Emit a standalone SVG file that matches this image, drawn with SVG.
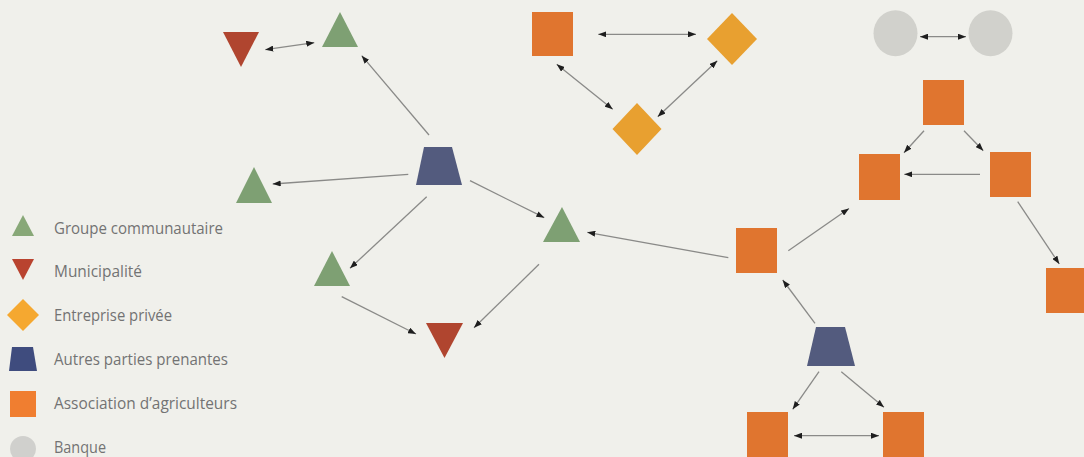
<svg xmlns="http://www.w3.org/2000/svg" width="1084" height="457" viewBox="0 0 1084 457">
<defs>
<marker id="ah" viewBox="0 0 8 6" markerWidth="8" markerHeight="6" refX="8" refY="3" orient="auto-start-reverse" markerUnits="userSpaceOnUse">
<path d="M0,0 L8,3 L0,6 z" fill="#1e1e1e"/>
</marker>
<style>
.bg{fill:#f0f0eb}
.c{stroke:#8a8a88;stroke-width:1.3;fill:none;marker-end:url(#ah)}
.d{marker-start:url(#ah)}
.g{fill:#7ea073}
.r{fill:#b0452f}
.o{fill:#e0752f}
.y{fill:#e8a030}
.n{fill:#535b7e}
.b{fill:#d1d1cc}
.lg{fill:#88a878}
.lr{fill:#b9432f}
.ly{fill:#f5a830}
.ln{fill:#3f4c7e}
.lo{fill:#f07e30}
.lb{fill:#d0d0cd}
.t{font-family:"Open Sans","Noto Sans","DejaVu Sans",sans-serif;font-size:17px;fill:#737373}
</style>
</defs>
<rect class="bg" x="0" y="0" width="1084" height="457"/>

<g id="connectors">
<line class="c d" x1="265.3" y1="49.7" x2="314.3" y2="42.7"/>
<line class="c" x1="429" y1="135" x2="361.7" y2="55.7"/>
<line class="c" x1="408.3" y1="174.3" x2="272.7" y2="184"/>
<line class="c" x1="470" y1="180.7" x2="544.3" y2="217.7"/>
<line class="c" x1="426.7" y1="196.7" x2="350" y2="268.3"/>
<line class="c" x1="341.7" y1="296.7" x2="416" y2="334"/>
<line class="c" x1="539" y1="264.3" x2="474" y2="327.7"/>
<line class="c" x1="728.3" y1="257.7" x2="587.3" y2="232.3"/>
<line class="c" x1="788.3" y1="250.7" x2="849" y2="208.5"/>
<line class="c" x1="815" y1="323.3" x2="782.7" y2="280"/>
<line class="c" x1="819" y1="371.7" x2="792.7" y2="409.3"/>
<line class="c" x1="841.3" y1="371.7" x2="884" y2="407.3"/>
<line class="c d" x1="794" y1="435.7" x2="879" y2="435.7"/>
<line class="c d" x1="598.3" y1="34.3" x2="696" y2="34.3"/>
<line class="c d" x1="556.7" y1="64.3" x2="612.7" y2="109.3"/>
<line class="c d" x1="657.7" y1="116.7" x2="717.3" y2="60.7"/>
<line class="c d" x1="920" y1="36.7" x2="966" y2="36.7"/>
<line class="c" x1="924" y1="130.7" x2="904" y2="152.7"/>
<line class="c" x1="964" y1="130.7" x2="983.3" y2="150.7"/>
<line class="c" x1="980" y1="174.3" x2="904.3" y2="174.3"/>
<line class="c" x1="1017.7" y1="201.7" x2="1059.3" y2="264"/>
</g>

<g id="muni-top"><polygon class="r" points="223,32 259,32 241,67"/></g>
<g id="groupe-top"><polygon class="g" points="322,47 358,47 340,12"/></g>
<g id="autres-1"><polygon class="n" points="424,147 452,147 462,185 416,185"/></g>
<g id="groupe-left"><polygon class="g" points="236,203 272,203 254,167"/></g>
<g id="groupe-right"><polygon class="g" points="543,242 580,242 562,207"/></g>
<g id="groupe-low"><polygon class="g" points="314,286 350,286 332,251"/></g>
<g id="muni-low"><polygon class="r" points="426,323 463,323 444.5,358"/></g>

<g id="assoc-top"><rect class="o" x="532" y="12" width="41" height="44"/></g>
<g id="entreprise-1"><polygon class="y" points="732,13 757,39 732,65 707,39"/></g>
<g id="entreprise-2"><polygon class="y" points="637,103 661.5,129 637,155 612.5,129"/></g>

<g id="banque-1"><ellipse class="b" cx="895.5" cy="33.3" rx="22" ry="23"/></g>
<g id="banque-2"><ellipse class="b" cx="990.5" cy="33.3" rx="22" ry="23"/></g>

<g id="assoc-a"><rect class="o" x="923" y="80" width="41" height="45"/></g>
<g id="assoc-b"><rect class="o" x="859" y="154" width="41" height="46"/></g>
<g id="assoc-c"><rect class="o" x="990" y="152" width="41" height="45"/></g>
<g id="assoc-d"><rect class="o" x="1046" y="268" width="41" height="45"/></g>
<g id="assoc-mid"><rect class="o" x="736" y="228" width="41" height="45"/></g>
<g id="autres-2"><polygon class="n" points="816,327 845,327 855,366 807,366"/></g>
<g id="assoc-bl"><rect class="o" x="747" y="412" width="41" height="46"/></g>
<g id="assoc-br"><rect class="o" x="883" y="412" width="41" height="46"/></g>

<g id="legend">
<polygon class="lg" points="12,236 34,236 23,215"/>
<text class="t" x="54" y="234" textLength="169" lengthAdjust="spacingAndGlyphs">Groupe communautaire</text>
<polygon class="lr" points="12,259 34,259 23,280"/>
<text class="t" x="54" y="277" textLength="88" lengthAdjust="spacingAndGlyphs">Municipalité</text>
<polygon class="ly" points="23,299 39,315 23,331 7,315"/>
<text class="t" x="54" y="321" textLength="118" lengthAdjust="spacingAndGlyphs">Entreprise privée</text>
<polygon class="ln" points="12,347 33,347 37,371 9,371"/>
<text class="t" x="54" y="365" textLength="174" lengthAdjust="spacingAndGlyphs">Autres parties prenantes</text>
<rect class="lo" x="10" y="391" width="26" height="26"/>
<text class="t" x="54" y="409" textLength="183" lengthAdjust="spacingAndGlyphs">Association d’agriculteurs</text>
<circle class="lb" cx="23" cy="449" r="13"/>
<text class="t" x="54" y="453" textLength="52" lengthAdjust="spacingAndGlyphs">Banque</text>
</g>
</svg>
